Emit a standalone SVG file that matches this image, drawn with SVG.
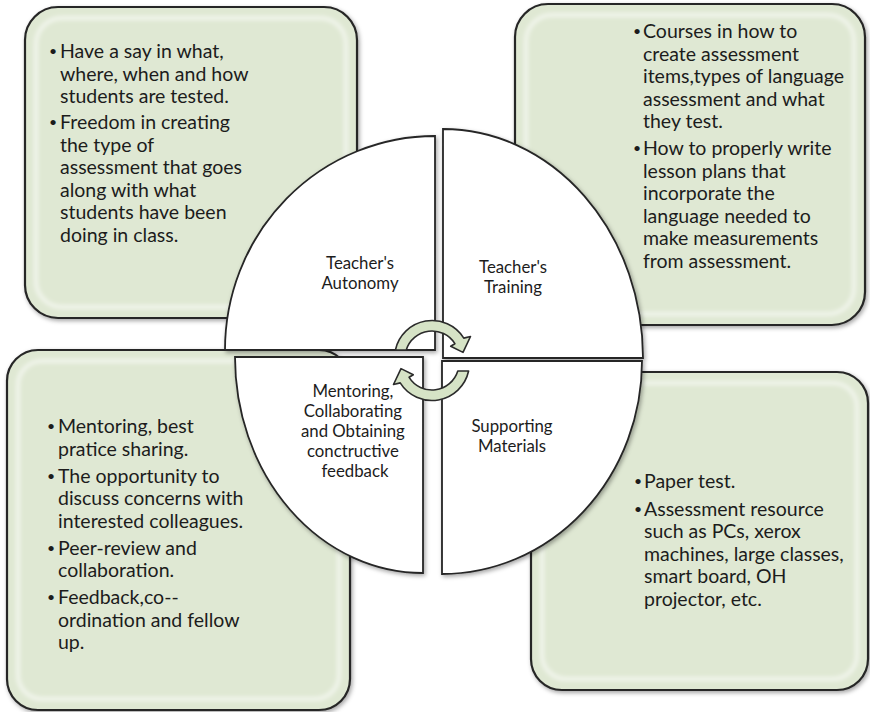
<svg xmlns="http://www.w3.org/2000/svg" width="870" height="712" viewBox="0 0 870 712">
<defs>
  <filter id="shadow" x="-10%" y="-10%" width="125%" height="125%">
    <feDropShadow dx="1.5" dy="2" stdDeviation="2" flood-color="#000" flood-opacity="0.35"/>
  </filter>
  <filter id="soft" x="-5%" y="-5%" width="110%" height="110%">
    <feGaussianBlur stdDeviation="2"/>
  </filter>
  <path id="cyc" d="M395.4,350 A37.5,37.5 0 0 1 463.8,338.1 L470.5,336.5 L463,352.4 L450.7,346.3 L454.9,343.7 A27,27 0 0 0 406.2,350 Z"/>
</defs>
<style>
  .box { fill: #dfe8d3; stroke: #262626; stroke-width: 2.2; }
  .glow { fill: none; stroke: #ffffff; stroke-opacity: 0.6; stroke-width: 4; }
  .quad { fill: #ffffff; stroke: #262626; stroke-width: 1.8; }
  .arrow { fill: #d6e3c6; stroke: #2b2b2b; stroke-width: 1.6; stroke-linejoin: round; }
  .txt { font-family: Lato, "Liberation Sans", sans-serif; font-size: 19.5px; fill: #1c1c1c; }
  .bul { font-family: Lato, "Liberation Sans", sans-serif; font-size: 14px; fill: #1c1c1c; }
  .lbl { font-family: Lato, "Liberation Sans", sans-serif; font-size: 16.8px; fill: #1c1c1c; text-anchor: middle; }
</style>
<rect width="870" height="712" fill="#ffffff"/>

<!-- detail boxes -->
<g id="box-autonomy">
  <rect class="box" x="25" y="7" width="332" height="311" rx="33" filter="url(#shadow)"/>
  <rect class="glow" x="36" y="18" width="310" height="289" rx="26" filter="url(#soft)"/>
  <text class="bul"><tspan x="49" y="56">•</tspan><tspan x="49" y="127">•</tspan></text>
  <text class="txt">
    <tspan x="60" y="58">Have a say in what,</tspan>
    <tspan x="60" y="80.5">where, when and how</tspan>
    <tspan x="60" y="103">students are tested.</tspan>
    <tspan x="60" y="129">Freedom in creating</tspan>
    <tspan x="60" y="151.5">the type of</tspan>
    <tspan x="60" y="174">assessment that goes</tspan>
    <tspan x="60" y="196.5">along with what</tspan>
    <tspan x="60" y="219">students have been</tspan>
    <tspan x="60" y="241.5">doing in class.</tspan>
  </text>
</g>

<g id="box-training">
  <rect class="box" x="515" y="4" width="350" height="321" rx="33" filter="url(#shadow)"/>
  <rect class="glow" x="526" y="15" width="328" height="299" rx="26" filter="url(#soft)"/>
  <text class="bul"><tspan x="633" y="36">•</tspan><tspan x="633" y="153">•</tspan></text>
  <text class="txt">
    <tspan x="643" y="38">Courses in how to</tspan>
    <tspan x="643" y="60.5">create assessment</tspan>
    <tspan x="643" y="83">items,types of language</tspan>
    <tspan x="643" y="105.5">assessment and what</tspan>
    <tspan x="643" y="128">they test.</tspan>
    <tspan x="643" y="155">How to properly write</tspan>
    <tspan x="643" y="177.5">lesson plans that</tspan>
    <tspan x="643" y="200">incorporate the</tspan>
    <tspan x="643" y="222.5">language needed to</tspan>
    <tspan x="643" y="245">make measurements</tspan>
    <tspan x="643" y="268">from assessment.</tspan>
  </text>
</g>

<g id="box-mentoring">
  <rect class="box" x="7" y="350" width="343" height="360" rx="31" filter="url(#shadow)"/>
  <rect class="glow" x="18" y="361" width="321" height="338" rx="24" filter="url(#soft)"/>
  <text class="bul"><tspan x="47" y="431">•</tspan><tspan x="47" y="480.5">•</tspan><tspan x="47" y="552.5">•</tspan><tspan x="47" y="602">•</tspan></text>
  <text class="txt">
    <tspan x="58" y="433">Mentoring, best</tspan>
    <tspan x="58" y="456">pratice sharing.</tspan>
    <tspan x="58" y="482.5">The opportunity to</tspan>
    <tspan x="58" y="505">discuss concerns with</tspan>
    <tspan x="58" y="527.5">interested colleagues.</tspan>
    <tspan x="58" y="554.5">Peer-review and</tspan>
    <tspan x="58" y="577">collaboration.</tspan>
    <tspan x="58" y="604">Feedback,co--</tspan>
    <tspan x="58" y="626.5">ordination and fellow</tspan>
    <tspan x="58" y="649">up.</tspan>
  </text>
</g>

<g id="box-materials">
  <rect class="box" x="531" y="372" width="337" height="318" rx="31" filter="url(#shadow)"/>
  <rect class="glow" x="542" y="383" width="315" height="296" rx="24" filter="url(#soft)"/>
  <text class="bul"><tspan x="634" y="486">•</tspan><tspan x="634" y="513.5">•</tspan></text>
  <text class="txt">
    <tspan x="644" y="488">Paper test.</tspan>
    <tspan x="644" y="515.5">Assessment resource</tspan>
    <tspan x="644" y="538">such as PCs, xerox</tspan>
    <tspan x="644" y="560.5">machines, large classes,</tspan>
    <tspan x="644" y="583">smart board, OH</tspan>
    <tspan x="644" y="605.5">projector, etc.</tspan>
  </text>
</g>

<!-- pie quadrants -->
<g id="quad-autonomy">
  <path class="quad" d="M435,136 A210,214 0 0 0 225,350 L435,350 Z" filter="url(#shadow)"/>
  <text class="lbl"><tspan x="360" y="269">Teacher's</tspan><tspan x="360" y="289">Autonomy</tspan></text>
</g>
<g id="quad-training">
  <path class="quad" d="M443,129 A200,229 0 0 1 643,358 L443,358 Z" filter="url(#shadow)"/>
  <text class="lbl"><tspan x="513" y="273">Teacher's</tspan><tspan x="513" y="293">Training</tspan></text>
</g>
<g id="quad-materials">
  <path class="quad" d="M442,361 L642,361 A200,213 0 0 1 442,574 Z" filter="url(#shadow)"/>
  <text class="lbl"><tspan x="512" y="432">Supporting</tspan><tspan x="512" y="452">Materials</tspan></text>
</g>
<g id="quad-mentoring">
  <path class="quad" d="M423,357 L235,357 A188,216 0 0 0 423,573 Z" filter="url(#shadow)"/>
  <text class="lbl">
    <tspan x="355" y="397">Mentoring,</tspan>
    <tspan x="355" y="417">Collaborating</tspan>
    <tspan x="355" y="437">and Obtaining</tspan>
    <tspan x="355" y="457">conctructive</tspan>
    <tspan x="355" y="477">feedback</tspan>
  </text>
</g>

<!-- circular arrows -->
<g id="connectors">
  <use href="#cyc" class="arrow"/>
  <use href="#cyc" class="arrow" transform="rotate(180 432 360.5)"/>
</g>
</svg>
